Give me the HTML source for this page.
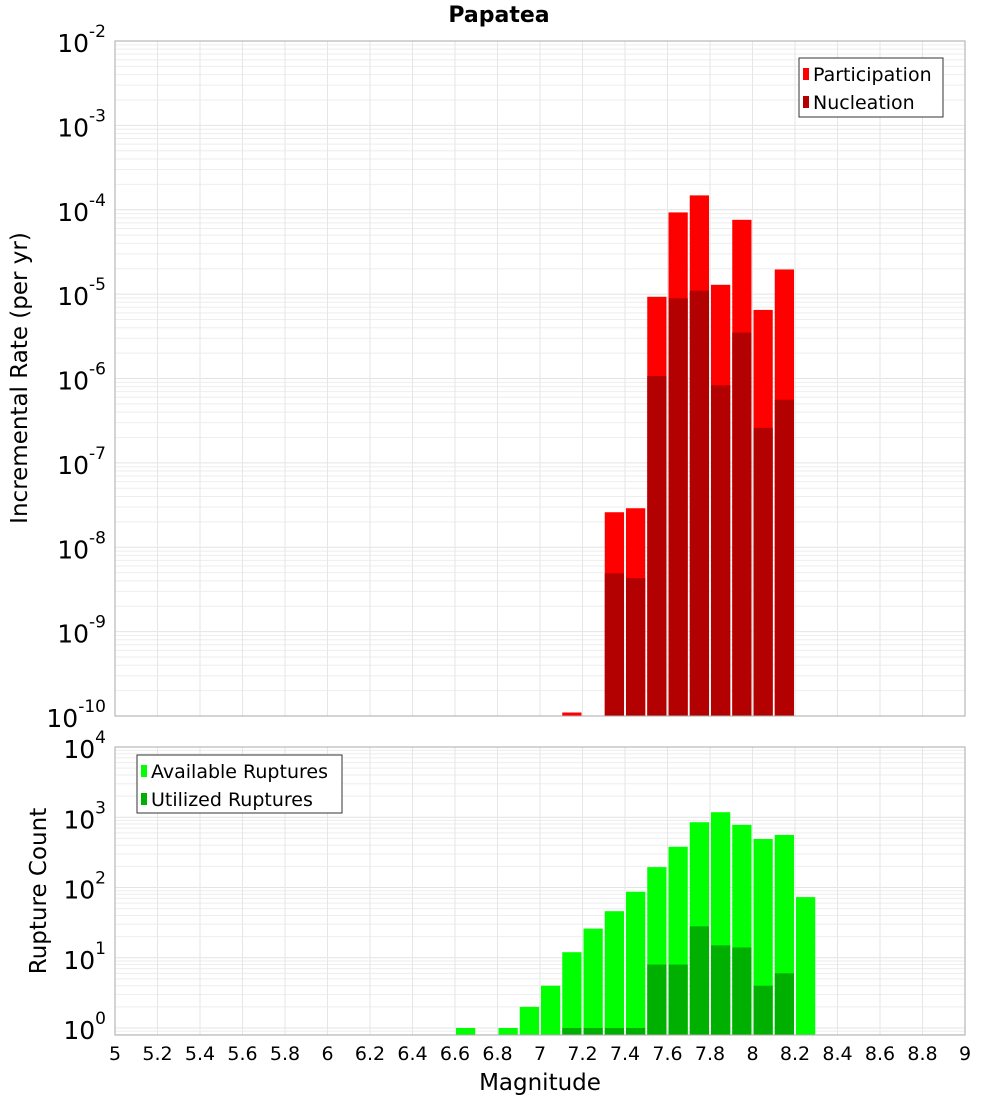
<!DOCTYPE html>
<html><head><meta charset="utf-8"><style>
body{margin:0;background:#fff;}
svg text{font-family:"DejaVu Sans","Liberation Sans",sans-serif;}
</style></head><body>
<svg id="chart" width="1000" height="1100" xmlns="http://www.w3.org/2000/svg">
<rect width="1000" height="1100" fill="#fff"/>
<text x="499" y="22" text-anchor="middle" font-size="22" font-weight="bold">Papatea</text>
<g id="top"></g>
<g id="bot"></g>
<text transform="translate(27,378) rotate(-90)" text-anchor="middle" font-size="23">Incremental Rate (per yr)</text>
<text transform="translate(46,891) rotate(-90)" text-anchor="middle" font-size="23">Rupture Count</text>
<text x="540" y="1090" text-anchor="middle" font-size="23">Magnitude</text>
</svg>
<script>
const rateMags = [7.15, 7.35, 7.45, 7.55, 7.65, 7.75, 7.85, 7.95, 8.05, 8.15];
const participation = [1.1e-10, 2.6e-8, 2.9e-8, 9.3e-6, 9.3e-5, 1.48e-4, 1.29e-5, 7.6e-5, 6.5e-6, 1.96e-5];
const nucleation = [0, 4.9e-9, 4.3e-9, 1.07e-6, 8.9e-6, 1.1e-5, 8.3e-7, 3.5e-6, 2.6e-7, 5.6e-7];
const countMags = [6.65, 6.85, 6.95, 7.05, 7.15, 7.25, 7.35, 7.45, 7.55, 7.65, 7.75, 7.85, 7.95, 8.05, 8.15, 8.25];
const available = [1, 1, 2, 4, 12, 26, 46, 87, 195, 380, 850, 1180, 780, 490, 560, 73];
const utilized = [0, 0, 0, 0, 1, 1, 1, 1, 8, 8, 28, 15, 14, 4, 6, 0];
const xTicks = [5,5.2,5.4,5.6,5.8,6,6.2,6.4,6.6,6.8,7,7.2,7.4,7.6,7.8,8,8.2,8.4,8.6,8.8,9];
const topExps = [-10,-9,-8,-7,-6,-5,-4,-3,-2];
const botExps = [0,1,2,3,4];

const NS='http://www.w3.org/2000/svg';
const L=115,R=965,BW=0.1;
const xS=m=>L+(m-5)/4*(R-L);
function mk(p,t,a){const e=document.createElementNS(NS,t);for(const k in a)e.setAttribute(k,a[k]);p.appendChild(e);return e;}
function plot(g,top,bot,eMin,eMax,clipLow){
  const yS=v=>bot-(Math.log10(v)-clipLow)/(eMax-clipLow)*(bot-top);
  for(let e=Math.floor(clipLow);e<eMax;e++)for(let k=1;k<10;k++){const y=yS(k*Math.pow(10,e));if(y<top-0.1||y>bot)continue;
    const l=mk(g,'line',{x1:L,x2:R,y1:y,y2:y,stroke:k==1?'#e4e4e4':'#eeeeee','stroke-width':1});
    }
  xTicks.forEach(t=>{const l=mk(g,'line',{x1:xS(t),x2:xS(t),y1:top,y2:bot,stroke:'#e6e6e6','stroke-width':1});
    });
  return yS;
}
function bars(g,mags,vals,color,yS,bot,name){
  mags.forEach((m,i)=>{if(!(vals[i]>0))return;const x0=xS(m-BW/2)+1,x1=xS(m+BW/2)-1;const y=Math.max(yS(vals[i]),0);
    const r=mk(g,'rect',{x:x0,y:y,width:x1-x0,height:bot-y,fill:color});
    });
}
function yLabels(g,exps,yS,name){
  exps.forEach(e=>{const y=yS(Math.pow(10,e));const t=mk(g,'text',{x:106,y:y+11,'text-anchor':'end','font-size':25});
    
    t.textContent='10';const s=mk(t,'tspan',{dy:-15,'font-size':17});s.textContent=String(e);});
}
function legend(g,x,y,w,h,items){
  const b=mk(g,'rect',{x:x,y:y,width:w,height:h,fill:'#fff',stroke:'#333','stroke-width':1});
  
  items.forEach((it,i)=>{const yy=y+10+i*28;
    const r=mk(g,'rect',{x:x+4,y:yy,width:6,height:12,fill:it[1]});
    const t=mk(g,'text',{x:x+14,y:yy+13,'font-size':19});t.textContent=it[0];});
}
// top
const gt=document.getElementById('top');
const yT=plot(gt,41,716,-10,-2,-10);
bars(gt,rateMags,participation,'#ff0000',yT,716,'participation-bar');
bars(gt,rateMags,nucleation,'#b30000',yT,716,'nucleation-bar');
let fr=mk(gt,'rect',{x:L,y:41,width:R-L,height:675,fill:'none',stroke:'#aaa','stroke-width':1});

yLabels(gt,topExps,yT,'top-y-tick-label');
legend(gt,799,58,144,59,[['Participation','#ff0000'],['Nucleation','#b30000']]);
// bottom
const gb=document.getElementById('bot');
const lowB=-(1035-1028)/70.25;
const yB=plot(gb,747,1035,0,4,lowB);
bars(gb,countMags,available,'#00ff00',yB,1035,'available-bar');
bars(gb,countMags,utilized,'#00b000',yB,1035,'utilized-bar');
fr=mk(gb,'rect',{x:L,y:747,width:R-L,height:288,fill:'none',stroke:'#aaa','stroke-width':1});

yLabels(gb,botExps,yB,'bottom-y-tick-label');
legend(gb,137,755,205,58,[['Available Ruptures','#00ff00'],['Utilized Ruptures','#00b000']]);
xTicks.forEach(t=>{const tx=mk(gb,'text',{x:xS(t),y:1060,'text-anchor':'middle','font-size':19});
  tx.textContent=String(t);});
</script>
</body></html>
